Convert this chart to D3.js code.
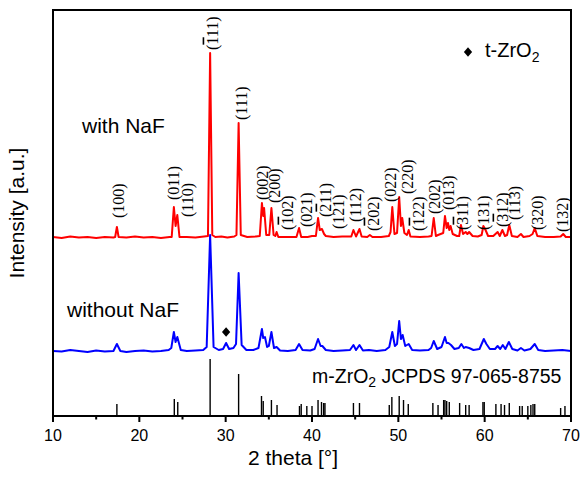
<!DOCTYPE html>
<html><head><meta charset="utf-8">
<script src="https://cdn.jsdelivr.net/npm/d3@7"></script>
<style>body{margin:0;background:#fff}</style>
</head><body><svg id="c" width="586" height="479"></svg>
<script>
// ---------- data ----------
const xTicks = [10, 20, 30, 40, 50, 60, 70];
const xMinorTicks = [15, 25, 35, 45, 55, 65];

// with NaF pattern [2theta, intensity a.u.]
const redPoints = [
 [10,1],[11,0],[12,1.5],[13,0.5],[14,1],[15,0],[16,1],[17,0.5],
 [17.2,1],[17.4,11],[17.6,1],
 [18.5,0.5],[19.5,1.5],[20.5,0.5],[21.5,1],[22.5,0],[23.5,1],
 [23.75,1],[24.0,31],[24.2,12],[24.4,23],[24.65,1],
 [25.5,1],[26.5,0.5],[27.5,1.5],[27.95,2],
 [28.2,185],[28.45,3],[28.8,1],[29.5,1.5],[30.2,0.5],[31.0,1.5],[31.25,3],
 [31.5,115],[31.75,3],[32.5,1],[33.5,1.5],[33.95,2],
 [34.2,35],[34.35,22],[34.45,30],[34.7,3],[35.05,3],[35.3,30],[35.55,3],[35.75,2],[35.9,6],[36.1,1],
 [37,1],[38.2,1],[38.5,10],[38.75,1],[39.5,1],[40.0,2],[40.45,2],[40.7,20],[40.9,8],[41.15,9],[41.4,4],[41.6,2],
 [42.5,1],[43.5,1.5],[44.55,1.5],[44.8,8],[45.1,1.5],[45.5,9],[45.75,1.5],[46.4,1],[46.7,3],[47,1],[48,1],[48.9,2],[49.1,6],
 [49.3,31],[49.55,4],[49.85,5],[50.1,41],[50.3,12],[50.45,20],[50.7,5],[51.0,3],[51.2,8],[51.4,1.5],
 [52.5,1],[53.5,1.5],[53.85,2],[54.1,20],[54.35,2],[54.6,3],[55.2,5],[55.4,22],[55.6,10],[55.75,15],[55.9,8],[56.05,12],[56.3,4],[56.8,2],
 [57.05,2],[57.25,13],[57.5,4],[57.8,6],[58.0,4],[58.2,6],[58.6,2],[59.2,1.5],[59.65,3],[59.85,12],[60.1,8],[60.4,2],
 [61.0,2],[61.5,6],[61.75,2],[62.05,8],[62.35,2],[62.6,3],[62.85,13],[63.15,2],[63.8,1],[64.2,4],[64.5,1],
 [65.2,2],[65.55,4],[65.8,10],[66.1,2],[67,1],[68,1],[68.8,1.5],[69.1,4],[69.4,1],[70,1]
];

// without NaF pattern [2theta, intensity a.u.]
const bluePoints = [
 [10,1],[11,0.5],[12,2],[13,1],[14,0],[15,1.5],[16,0.5],[17.0,1],[17.4,8],[17.8,1],
 [18.5,0],[19.5,1],[20.5,1.5],[21.5,0.5],[22.5,1],[23.4,2],[23.7,4],[24.0,20],[24.2,10],[24.4,15],[24.8,2],
 [25.5,1],[26.5,1.5],[27.4,2],[27.8,5],[28.2,117],[28.6,5],[29.2,2],[29.7,3],[30.05,9],[30.4,3],[30.9,4],[31.2,8],
 [31.5,79],[31.85,7],[32.4,2],[33.2,2],[33.8,4],[34.2,23],[34.35,14],[34.55,15],[34.8,5],[35.0,6],[35.3,20],[35.6,4],[35.9,5],[36.3,1.5],
 [37.2,1],[38.1,2],[38.5,8],[38.9,2],[39.8,1.5],[40.3,3],[40.7,13],[41.0,6],[41.2,6],[41.6,2],
 [42.5,1],[43.5,1.5],[44.4,2],[44.8,7],[45.1,2],[45.5,7],[45.9,1.5],[46.6,2],[47.5,1],[48.5,2],[48.95,5],
 [49.3,20],[49.6,6],[49.85,8],[50.1,31],[50.3,13],[50.5,17],[50.8,6],[51.2,8],[51.6,2],
 [52.5,1.5],[53.5,2],[53.8,4],[54.1,11],[54.5,3],[55.0,5],[55.4,15],[55.6,9],[55.8,9],[56.1,7],[56.5,3],
 [57.0,4],[57.3,8],[57.6,4],[57.8,5],[58.2,4],[58.7,2],[59.4,3],[59.9,13],[60.2,8],[60.6,3],
 [61.2,3],[61.5,6],[61.8,3],[62.1,7],[62.4,3],[62.8,10],[63.2,3],[63.8,1.5],[64.2,4],[64.6,1.5],
 [65.3,3],[65.8,8],[66.2,2],[67,1],[68,1.5],[69,2],[70,1]
];

// m-ZrO2 JCPDS 97-065-8755 reference lines [2theta, relative intensity]
const refSticks = [
 [17.4,12],[24.05,17],[24.45,14],[28.2,57],[31.5,42],[34.15,20],[34.35,15],[35.3,16],[35.95,11],
 [38.55,10],[38.75,12],[39.4,10],[40.0,10],[40.7,16],[41.1,14],[41.35,13],[41.5,13],
 [44.8,13],[45.5,13],[48.95,11],[49.25,19],[50.1,20],[50.6,16],[51.15,12],
 [54.0,13],[54.6,11],[55.25,16],[55.4,16],[55.6,15],[55.9,14],[57.1,13],[57.8,11],[58.2,11],
 [59.8,14],[59.95,14],[61.3,12],[61.9,12],[62.3,11],[62.85,13],
 [64.05,10],[64.35,10],[65.0,10],[65.35,11],[65.6,12],[65.8,12],[68.8,8],[69.3,10]
];

// Miller index annotations ("-" = overbar on next digit), 2theta, level above the "with NaF" baseline
const hklLabels = [
 ["(100)",17.53,20],["(011)",23.9,38],["(110)",25.52,21],["(-111)",28.42,188],["(111)",31.78,118],
 ["(002)",34.2,38],["(200)",35.6,35],["(-102)",37.1,8],["(021)",39.3,11],["(-211)",41.5,21],
 ["(121)",43.1,9],["(112)",45.0,16],["(-202)",47.07,7],["(022)",49.04,36],["(220)",51.0,44],
 ["(-122)",52.28,7],["(202)",54.13,24],["(013)",55.75,28],["(-311)",57.38,8],["(131)",59.8,8],
 ["(-312)",62.0,11],["(113)",63.5,18],["(320)",66.06,8],["(132)",68.96,6]
];
const tPhasePeak = [30.05, 9];   // t-ZrO2 reflection in "without NaF"

// ---------- drawing ----------
const svg = d3.select("#c");
const L = 53, R = 571, T = 10, B = 416;
const x = d3.scaleLinear().domain([10, 70]).range([L, R]);
const y = d3.scaleLinear().domain([0, 406]).range([B, T]);
const redOffset = 178, blueOffset = 64;
const sans = "Liberation Sans, Arial, Helvetica, sans-serif";
const serif = "Liberation Serif, Times New Roman, serif";

svg.append("defs").append("clipPath").attr("id","clip")
  .append("rect").attr("x",L).attr("y",T).attr("width",R-L).attr("height",B-T);

const plot = svg.append("g").attr("clip-path","url(#clip)");

// reference sticks
plot.selectAll("line.stick").data(refSticks).join("line")
  .attr("x1",d=>x(d[0])).attr("x2",d=>x(d[0]))
  .attr("y1",y(0)).attr("y2",d=>y(d[1]))
  .attr("stroke","#000").attr("stroke-width",1.4);

const lineGen = off => d3.line().x(d=>x(d[0])).y(d=>y(d[1]+off));
plot.append("path").datum(bluePoints).attr("d",lineGen(blueOffset))
  .attr("fill","none").attr("stroke","#0000ff").attr("stroke-width",2).attr("stroke-linejoin","round");
plot.append("path").datum(redPoints).attr("d",lineGen(redOffset))
  .attr("fill","none").attr("stroke","#ff0000").attr("stroke-width",2).attr("stroke-linejoin","round");

// frame
svg.append("rect").attr("x",L).attr("y",T).attr("width",R-L).attr("height",B-T)
  .attr("fill","none").attr("stroke","#000").attr("stroke-width",2);

// x axis ticks
const ax = svg.append("g");
ax.selectAll("line.maj").data(xTicks).join("line")
  .attr("x1",d=>x(d)).attr("x2",d=>x(d)).attr("y1",B).attr("y2",B+6)
  .attr("stroke","#000").attr("stroke-width",2);
ax.selectAll("line.min").data(xMinorTicks).join("line")
  .attr("x1",d=>x(d)).attr("x2",d=>x(d)).attr("y1",B).attr("y2",B+3.5)
  .attr("stroke","#000").attr("stroke-width",2);
ax.selectAll("text").data(xTicks).join("text")
  .attr("x",d=>x(d)).attr("y",441).attr("text-anchor","middle")
  .attr("font-family",sans).attr("font-size",16).text(d=>d);

svg.append("text").attr("x",293).attr("y",465).attr("text-anchor","middle")
  .attr("font-family",sans).attr("font-size",21).text("2 theta [°]");
svg.append("text").attr("transform",`translate(24,${(T+B)/2}) rotate(-90)`)
  .attr("text-anchor","middle").attr("font-family",sans).attr("font-size",21)
  .text("Intensity [a.u.]");

// sample labels
svg.append("text").attr("x",82).attr("y",133).attr("font-family",sans).attr("font-size",21).text("with NaF");
svg.append("text").attr("x",67).attr("y",317).attr("font-family",sans).attr("font-size",21).text("without NaF");

// reference text
const ref = svg.append("text").attr("x",312).attr("y",383).attr("font-family",sans).attr("font-size",19.5);
ref.append("tspan").text("m-ZrO");
ref.append("tspan").attr("font-size",14).attr("dy",4).text("2");
ref.append("tspan").attr("dy",-4).text(" JCPDS 97-065-8755");

// t-ZrO2 legend
const diamond = d3.symbol().type(d3.symbolDiamond2).size(60);
svg.append("path").attr("d",diamond()).attr("transform","translate(468,52) scale(0.85,1)").attr("fill","#000");
const lg = svg.append("text").attr("x",485).attr("y",57).attr("font-family",sans).attr("font-size",20);
lg.append("tspan").text("t-ZrO");
lg.append("tspan").attr("font-size",14).attr("dy",5).text("2");

// t-ZrO2 marker on blue
svg.append("path").attr("d",diamond())
  .attr("transform",`translate(${x(tPhasePeak[0])},${y(tPhasePeak[1]+blueOffset)-11}) scale(0.85,1)`)
  .attr("fill","#000");

// hkl labels
hklLabels.forEach(([s,th,lv])=>{
  const t = svg.append("text")
    .attr("transform",`translate(${x(th)},${y(lv+redOffset)}) rotate(-90)`)
    .attr("dy","0.35em").attr("font-family",serif).attr("font-size",16);
  let i = 0, buf = "";
  while (i < s.length) {
    if (s[i] === "-") {
      if (buf) { t.append("tspan").text(buf); buf = ""; }
      t.append("tspan").style("text-decoration","overline").text(s[i+1]);
      i += 2;
    } else { buf += s[i]; i++; }
  }
  if (buf) t.append("tspan").text(buf);
});
</script>
</body></html>
